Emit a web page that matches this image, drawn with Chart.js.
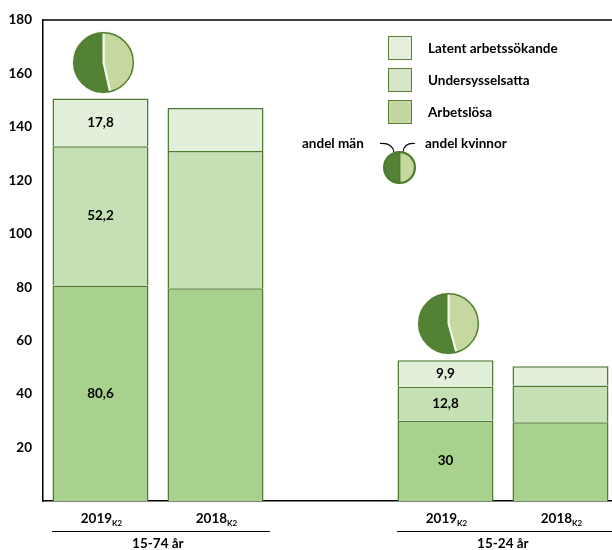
<!DOCTYPE html>
<html>
<head>
<meta charset="utf-8">
<script src="https://cdn.jsdelivr.net/npm/chart.js@4/dist/chart.umd.min.js"></script>
<style>
  html, body { margin: 0; padding: 0; background: #fff; overflow: hidden; width: 612px; height: 550px; }
  #wrap { position: relative; width: 612px; height: 550px; overflow: hidden; font-family: Lato, Carlito, Calibri, sans-serif; font-weight: bold; color: #000; }
  #main { position: absolute; left: 0; top: 0; }
  .abs { position: absolute; white-space: nowrap; }
  .cat { font-size: 13.5px; transform: translate(-50%, -50%); }
  .cat sub { font-size: 8px; vertical-align: baseline; position: relative; top: 3px; }
  .grp { font-size: 13.5px; transform: translate(-50%, -50%); }
  .gline { position: absolute; height: 0; border-top: 1.5px solid #000; }
  .sw { position: absolute; width: 22px; height: 22px; border: 1.2px solid #557f35; }
  .lt { font-size: 13.5px; transform: translateY(-50%); }
</style>
</head>
<body>
<div id="wrap">
  <canvas id="main" width="620" height="550"></canvas>
</div>
<script>
// ---- data ----
const categories = ['2019', '2018', '', '2019', '2018'];
const catSub = ['K2', 'K2', '', 'K2', 'K2'];
const groups = ['15-74 år', '15-24 år'];
const groupCats = [[0, 1], [3, 4]];
const arbetslosa = [80.6, 79.6, null, 30, 29.5];
const undersysselsatta = [52.2, 51.4, null, 12.8, 13.7];
const latent = [17.8, 16.1, null, 9.9, 7.2];
const showValues = [true, false, false, true, false];
const seriesNames = ['Arbetslösa', 'Undersysselsatta', 'Latent arbetssökande'];
const pieCats = [0, 3];
const pieKvinnor = [46.5, 45.8];
const pieMan = [53.5, 54.2];
const legendPie = [50, 50];
const yTicks = [0, 20, 40, 60, 80, 100, 120, 140, 160, 180];

const FONT = 'Lato, Carlito, Calibri, sans-serif';
const BORDER = '#4f7a2f';
const barColors = ['#a9d18e', '#c5e0b4', '#e2efda'];
const legendColors = ['#c4d7a2', '#d6e5c6', '#e6efdc'];
const PIE_DARK = '#548235';
const PIE_LIGHT = '#c5d8a0';

const fmt = v => String(v).replace('.', ',');

const valueLabels = {
  id: 'valueLabels',
  afterDatasetsDraw(chart) {
    const ctx = chart.ctx;
    ctx.save();
    ctx.font = 'bold 13.5px ' + FONT;
    ctx.fillStyle = '#000';
    ctx.textAlign = 'center';
    ctx.textBaseline = 'middle';
    chart.data.datasets.forEach((ds, di) => {
      chart.getDatasetMeta(di).data.forEach((el, i) => {
        if (!showValues[i] || ds.data[i] == null) return;
        const p = el.getProps(['x', 'y', 'base'], true);
        ctx.fillText(fmt(ds.data[i]), p.x, (p.y + p.base) / 2);
      });
    });
    ctx.restore();
  }
};

const topLine = {
  id: 'topLine',
  afterDraw(chart) {
    const {ctx, chartArea} = chart;
    ctx.save();
    ctx.strokeStyle = '#000';
    ctx.lineWidth = 1.5;
    ctx.beginPath();
    ctx.moveTo(chartArea.left, chartArea.top);
    ctx.lineTo(chartArea.right + 5, chartArea.top);
    ctx.stroke();
    ctx.restore();
  }
};

const data = [arbetslosa, undersysselsatta, latent];
const chart = new Chart(document.getElementById('main'), {
  type: 'bar',
  data: {
    labels: categories,
    datasets: data.map((d, i) => ({
      label: seriesNames[i],
      data: d,
      backgroundColor: barColors[i],
      borderColor: BORDER,
      borderWidth: 1.5,
      borderSkipped: 'bottom',
      categoryPercentage: 1,
      barPercentage: 0.835
    }))
  },
  options: {
    responsive: false,
    animation: false,
    devicePixelRatio: 1,
    layout: { padding: { top: 20, left: 0, right: 2, bottom: 0 } },
    plugins: { legend: { display: false }, tooltip: { enabled: false } },
    scales: {
      x: {
        stacked: true,
        grid: { display: false, drawTicks: false },
        border: { display: true, color: '#000', width: 1.5 },
        ticks: { display: false },
        afterFit: s => { s.height = 49; }
      },
      y: {
        stacked: true,
        min: 0, max: 180,
        afterBuildTicks: s => { s.ticks = yTicks.map(v => ({ value: v })); },
        grid: { display: false, drawTicks: false },
        border: { display: true, color: '#000', width: 1.5 },
        ticks: {
          padding: 11,
          color: '#000',
          font: { family: FONT, size: 13.5, weight: 'bold' },
          callback: v => (v === 0 ? '' : String(v))
        },
        afterFit: s => { s.width = 43; }
      }
    }
  },
  plugins: [valueLabels, topLine]
});

const wrap = document.getElementById('wrap');
const xs = chart.scales.x, ys = chart.scales.y;
const step = xs.getPixelForValue(1) - xs.getPixelForValue(0);

function addDiv(cls, html, left, top) {
  const d = document.createElement('div');
  d.className = cls;
  d.innerHTML = html;
  d.style.left = left + 'px';
  d.style.top = top + 'px';
  wrap.appendChild(d);
  return d;
}

// category labels
categories.forEach((c, i) => {
  if (!c) return;
  addDiv('abs cat', c + '<sub>' + catSub[i] + '</sub>', xs.getPixelForValue(i) + 1, 518);
});
// group labels and lines
groups.forEach((g, gi) => {
  const [a, b] = groupCats[gi];
  const l = xs.getPixelForValue(a) - 0.42 * step;
  const r = xs.getPixelForValue(b) + 0.47 * step;
  const ln = document.createElement('div');
  ln.className = 'gline';
  ln.style.left = l + 'px';
  ln.style.top = '531px';
  ln.style.width = (r - l) + 'px';
  wrap.appendChild(ln);
  addDiv('abs grp', g, (l + r) / 2 - 3, 543);
});

// legend
const legendOrder = [2, 1, 0];
legendOrder.forEach((si, k) => {
  const y = 36 + k * 32;
  const sw = document.createElement('div');
  sw.className = 'sw';
  sw.style.left = '388px';
  sw.style.top = y + 'px';
  sw.style.background = legendColors[si];
  wrap.appendChild(sw);
  addDiv('abs lt', seriesNames[si], 428, y + 12);
});
addDiv('abs lt', 'andel män', 302, 143);
addDiv('abs lt', 'andel kvinnor', 425, 143);

// connectors
const svgNS = 'http://www.w3.org/2000/svg';
const svg = document.createElementNS(svgNS, 'svg');
svg.setAttribute('width', '612');
svg.setAttribute('height', '550');
svg.style.position = 'absolute';
svg.style.left = '0';
svg.style.top = '0';
svg.style.pointerEvents = 'none';
['M380,143.5 Q392,142.5 394,152', 'M415,143.5 Q404,142.5 403,152'].forEach(dp => {
  const p = document.createElementNS(svgNS, 'path');
  p.setAttribute('d', dp);
  p.setAttribute('fill', 'none');
  p.setAttribute('stroke', '#000');
  p.setAttribute('stroke-width', '1.1');
  svg.appendChild(p);
});
wrap.appendChild(svg);

// pies
function makePie(cx, cy, r, vals, sepColor, sepWidth) {
  const size = Math.round(2 * r + 2);
  const c = document.createElement('canvas');
  c.width = size; c.height = size;
  c.style.position = 'absolute';
  c.style.left = (cx - size / 2) + 'px';
  c.style.top = (cy - size / 2) + 'px';
  wrap.appendChild(c);
  // outline ring drawn after the slices
  const outline = {
    id: 'outline',
    afterDatasetsDraw(ch) {
      const arc = ch.getDatasetMeta(0).data[0];
      const ctx = ch.ctx;
      ctx.save();
      ctx.strokeStyle = BORDER;
      ctx.lineWidth = 1.4;
      ctx.beginPath();
      ctx.arc(arc.x, arc.y, arc.outerRadius - 0.7, 0, Math.PI * 2);
      ctx.stroke();
      ctx.restore();
    }
  };
  new Chart(c, {
    type: 'pie',
    data: {
      labels: ['andel kvinnor', 'andel män'],
      datasets: [{
        data: vals,
        backgroundColor: [PIE_LIGHT, PIE_DARK],
        borderColor: sepColor,
        borderWidth: sepWidth
      }]
    },
    options: {
      responsive: false, animation: false, devicePixelRatio: 1,
      layout: { padding: 1 },
      plugins: { legend: { display: false }, tooltip: { enabled: false } }
    },
    plugins: [outline]
  });
}
pieCats.forEach((ci, k) => {
  const tot = arbetslosa[ci] + undersysselsatta[ci] + latent[ci];
  const r = 31.5;
  const cx = xs.getPixelForValue(ci) + 3;
  const cy = ys.getPixelForValue(tot) - 5 - r;
  makePie(cx, cy, r, [pieKvinnor[k], pieMan[k]], '#f4f8ec', 2);
});
makePie(399.5, 167.5, 16.5, legendPie, BORDER, 1.5);
</script>
</body>
</html>
